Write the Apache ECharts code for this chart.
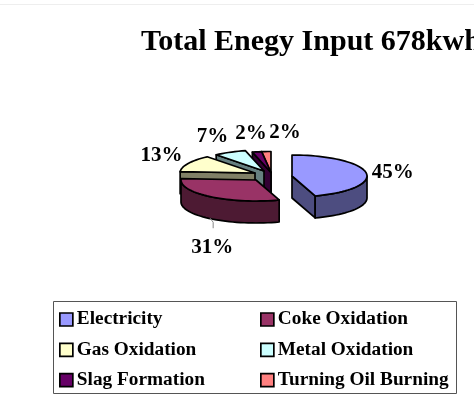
<!DOCTYPE html>
<html>
<head>
<meta charset="utf-8">
<title>Total Enegy Input</title>
<style>
    html, body { margin: 0; padding: 0; background: #fff; }
    #main { width: 474px; height: 406px; }
</style>
<script src="https://cdn.jsdelivr.net/npm/echarts@6/dist/echarts.min.js"></script>
</head>
<body>
<div id="main"></div>
<script>
var categories = ['Electricity', 'Coke Oxidation', 'Gas Oxidation', 'Metal Oxidation', 'Slag Formation', 'Turning Oil Burning'];
var shares = [45, 31, 13, 7, 2, 2];
var colors = ['#9999ff', '#993366', '#ffffcc', '#ccffff', '#660066', '#ff8080'];
var leftLegend = ['Electricity', 'Gas Oxidation', 'Slag Formation'];
var rightLegend = ['Coke Oxidation', 'Metal Oxidation', 'Turning Oil Burning'];

// pie geometry, squashed by hand because the pie series has no 3D
var pie = { cx: 272, cy: 175, rx: 75, ry: 21, depth: 22, explode: 0.28 };
// how far each slice is pulled out of the pie
var sliceShift = [[20, 1], [-16, 5], [-17, -2], [-8, -4], [-1, -2.5], [-1, -2.5]];
// label shift from the rim middle of each slice
var labelShift = [[26, 2], [-1, 51], [-25, -7], [-16, -14], [-3, -15], [19, -16]];
var serif = '"Liberation Serif", "Times New Roman", serif';

var total = 0;
for (var t = 0; t < shares.length; t++) {
    total += shares[t];
}

function shade(hex) {
    var c = echarts.color.parse(hex);
    return 'rgb(' + Math.round(c[0] / 2) + ',' + Math.round(c[1] / 2) + ',' + Math.round(c[2] / 2) + ')';
}

function rimPoint(ox, oy, deg, drop) {
    var a = deg * Math.PI / 180;
    return [ox + pie.rx * Math.sin(a), oy - pie.ry * Math.cos(a) + drop];
}

function arcPoints(ox, oy, from, to, drop) {
    var pts = [];
    var n = Math.max(2, Math.ceil((to - from) / 3));
    for (var i = 0; i <= n; i++) {
        pts.push(rimPoint(ox, oy, from + (to - from) * i / n, drop));
    }
    return pts;
}

function renderSlice(idx) {
    return function (params, api) {
        var before = 0;
        for (var k = 0; k < idx; k++) {
            before += shares[k];
        }
        var from = before / total * 360;
        var to = from + api.value(0) / total * 360;
        var mid = (from + to) / 2 * Math.PI / 180;
        var ox = pie.cx + sliceShift[idx][0];
        var oy = pie.cy + sliceShift[idx][1];
        var d = pie.depth;
        var z = 10 - idx;
        var children = [];

        function addPoly(points, fill) {
            children.push({
                type: 'polygon',
                z2: z,
                shape: { points: points },
                style: { fill: fill, stroke: '#000', lineWidth: 1.7, lineJoin: 'round' }
            });
        }

        function addCut(deg, wall) {
            var rim = rimPoint(ox, oy, deg, 0);
            addPoly([[ox, oy], rim, [rim[0], rim[1] + d], [ox, oy + d]], wall);
        }

        // cut faces that look at the viewer, then the outer wall, then the top
        var wall = shade(colors[idx]);
        if (Math.sin(from * Math.PI / 180) < 0) {
            addCut(from, wall);
        }
        if (Math.sin(to * Math.PI / 180) > 0) {
            addCut(to, wall);
        }
        var wallFrom = Math.max(from, 90);
        var wallTo = Math.min(to, 270);
        if (wallTo > wallFrom) {
            addPoly(arcPoints(ox, oy, wallFrom, wallTo, 0).concat(arcPoints(ox, oy, wallFrom, wallTo, d).reverse()), wall);
        }
        addPoly([[ox, oy]].concat(arcPoints(ox, oy, from, to, 0)), colors[idx]);

        var anchor = [pie.cx + (1 + pie.explode) * pie.rx * Math.sin(mid), pie.cy - (1 + pie.explode) * pie.ry * Math.cos(mid)];
        if (labelShift[idx][1] > 30) {
            // only the label pulled far from its slice gets a leader
            children.push({
                type: 'polyline',
                z2: z,
                shape: { points: [[anchor[0] - 3, anchor[1] + d], [anchor[0], anchor[1] + d + 4], [anchor[0], anchor[1] + d + 10]] },
                style: { fill: null, stroke: '#888', lineWidth: 1 }
            });
        }
        children.push({
            type: 'text',
            z2: 20,
            style: {
                text: api.value(0) + '%',
                x: anchor[0] + labelShift[idx][0],
                y: anchor[1] + labelShift[idx][1],
                align: 'center',
                verticalAlign: 'middle',
                fill: '#000',
                font: 'bold 21px ' + serif
            }
        });
        return { type: 'group', children: children };
    };
}

var seriesList = [];
for (var i = 0; i < categories.length; i++) {
    seriesList.push({
        name: categories[i],
        type: 'custom',
        coordinateSystem: 'none',
        silent: true,
        animation: false,
        clip: false,
        itemStyle: { color: colors[i] },
        renderItem: renderSlice(i),
        data: [[shares[i]]]
    });
}

function makeLegend(names, left) {
    return {
        data: names,
        orient: 'vertical',
        left: left,
        top: 310,
        icon: 'rect',
        itemWidth: 13,
        itemHeight: 13,
        itemGap: 11.3,
        padding: 0,
        selectedMode: false,
        itemStyle: { borderColor: '#000', borderWidth: 1.7 },
        textStyle: {
            fontFamily: serif,
            fontWeight: 'bold',
            fontSize: 19.3,
            color: '#000',
            padding: [0, 0, 0, -1]
        }
    };
}

var option = {
    animation: false,
    backgroundColor: '#fff',
    title: {
        text: 'Total Enegy Input 678kwh',
        left: 141,
        top: 27,
        padding: 0,
        textStyle: { fontFamily: serif, fontWeight: 'bold', fontSize: 30, color: '#000' }
    },
    legend: [makeLegend(leftLegend, 59), makeLegend(rightLegend, 260)],
    graphic: [
        { type: 'line', shape: { x1: 0, y1: 4.5, x2: 474, y2: 4.5 }, style: { stroke: '#eee', lineWidth: 1 } },
        { type: 'rect', shape: { x: 53.5, y: 301.5, width: 403, height: 92 }, style: { fill: null, stroke: '#555', lineWidth: 1 } }
    ],
    series: seriesList
};

var myChart = echarts.init(document.getElementById('main'));
myChart.setOption(option);
</script>
</body>
</html>
